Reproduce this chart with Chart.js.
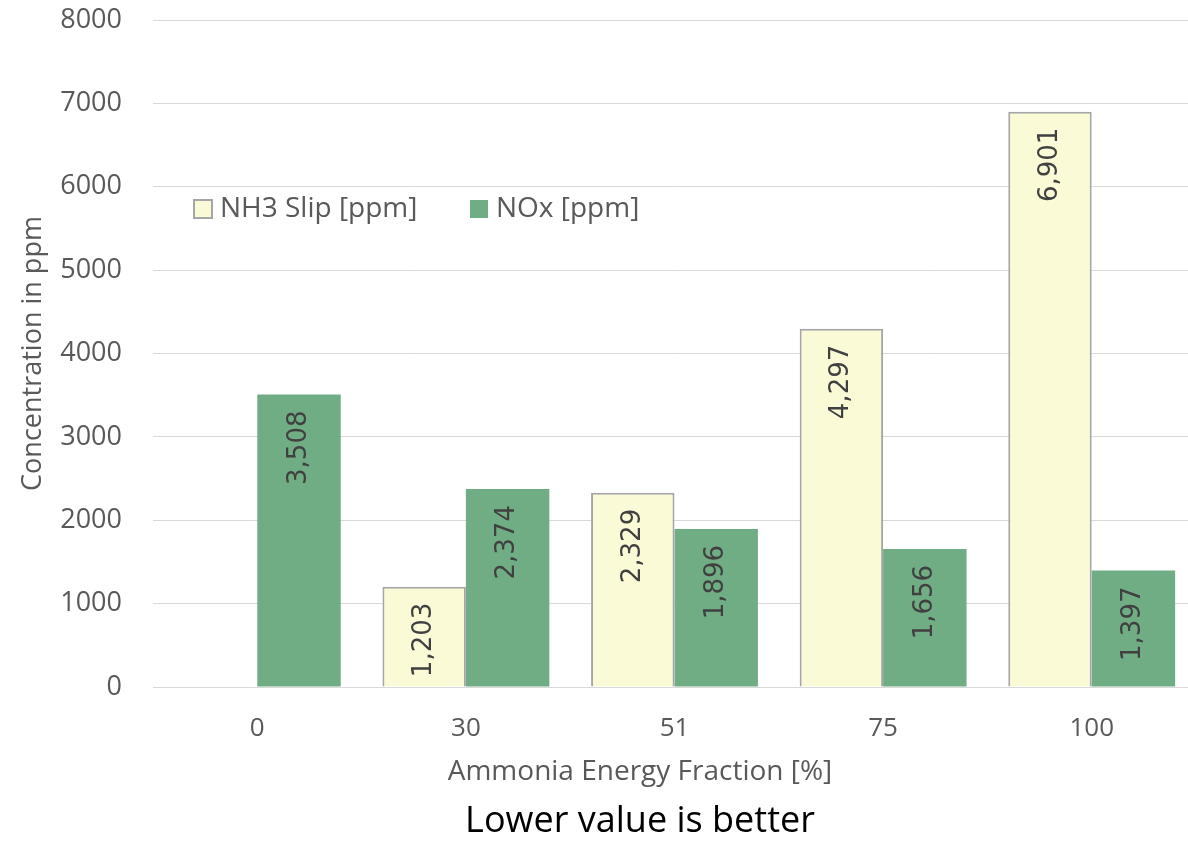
<!doctype html>
<html lang="en">
<head>
    <meta charset="utf-8">
    <title>Ammonia Energy Fraction</title>
    <script src="https://cdn.jsdelivr.net/npm/chart.js"></script>
    <style>
        body {
            margin: 0;
            background: white;
            overflow: hidden;
        }
    </style>
</head>
<body>
    <canvas id="myChart" width="1196" height="841"></canvas>

    <script>
        // data
        const fractions = ['0', '30', '51', '75', '100'];
        const nh3Slip = [null, 1203, 2329, 4297, 6901];
        const noxValues = [3508, 2374, 1896, 1656, 1397];
        const yTicks = [0, 1000, 2000, 3000, 4000, 5000, 6000, 7000, 8000];

        const xTitle = 'Ammonia Energy Fraction [%]';
        const bottomNote = 'Lower value is better';

        const greyText = '#595959';
        const mainFont = 'Open Sans';

        // value labels, rotated, inside the top of each bar
        const barLabels = {
            id: 'barLabels',
            afterDatasetsDraw(chart) {
                const ctx = chart.ctx;
                ctx.save();
                ctx.font = '26px "DejaVu Sans"';
                ctx.fillStyle = '#404040';
                chart.data.datasets.forEach((ds, i) => {
                    const meta = chart.getDatasetMeta(i);
                    meta.data.forEach((bar, j) => {
                        const v = ds.data[j];
                        if (v == null) return;
                        ctx.save();
                        ctx.translate(bar.x, bar.y + 16);
                        ctx.rotate(-Math.PI / 2);
                        ctx.textAlign = 'right';
                        ctx.textBaseline = 'middle';
                        ctx.fillText(v.toLocaleString('en-US'), 0, 0);
                        ctx.restore();
                    });
                });
                ctx.restore();
            }
        };

        // legend inside the plot area + the two bottom texts
        const extras = {
            id: 'extras',
            afterDraw(chart) {
                const ctx = chart.ctx;
                const items = [
                    { x: 194, ds: chart.data.datasets[0] },
                    { x: 470, ds: chart.data.datasets[1] }
                ];
                const y = 209;
                ctx.save();
                ctx.font = '28px "' + mainFont + '"';
                ctx.textBaseline = 'middle';
                ctx.textAlign = 'left';
                items.forEach(it => {
                    ctx.fillStyle = it.ds.backgroundColor;
                    ctx.fillRect(it.x, y - 9, 18, 18);
                    if (it.ds.borderWidth) {
                        ctx.strokeStyle = it.ds.borderColor;
                        ctx.lineWidth = 2;
                        ctx.strokeRect(it.x, y - 9, 18, 18);
                    }
                    ctx.fillStyle = greyText;
                    ctx.fillText(it.ds.label, it.x + 26, y);
                });

                ctx.textAlign = 'center';
                ctx.fillStyle = greyText;
                ctx.font = '28px "' + mainFont + '"';
                ctx.fillText(xTitle, 640, 772);
                ctx.fillStyle = '#000000';
                ctx.font = '36px "' + mainFont + '"';
                ctx.fillText(bottomNote, 640, 822);
                ctx.restore();
            }
        };

        const data = {
            labels: fractions,
            datasets: [{
                label: 'NH3 Slip [ppm]',
                data: nh3Slip,
                backgroundColor: '#FAFAD7',
                borderColor: '#A6A6A6',
                borderWidth: 2,
                categoryPercentage: 0.8,
                barPercentage: 1.0
            }, {
                label: 'NOx [ppm]',
                data: noxValues,
                backgroundColor: '#70AD85',
                borderWidth: 0,
                categoryPercentage: 0.8,
                barPercentage: 1.0
            }]
        };

        const config = {
            type: 'bar',
            data: data,
            plugins: [barLabels, extras],
            options: {
                responsive: false,
                animation: false,
                layout: {
                    padding: { top: 20, left: 0, right: 0, bottom: 0 }
                },
                plugins: {
                    legend: { display: false },
                    tooltip: { enabled: false },
                    title: { display: false }
                },
                scales: {
                    x: {
                        grid: { display: false, drawTicks: false },
                        border: { display: false },
                        ticks: {
                            color: greyText,
                            font: { family: mainFont, size: 26 },
                            padding: 26
                        },
                        afterFit(scale) {
                            scale.height = 841 - 687;
                        }
                    },
                    y: {
                        min: 0,
                        max: 8000,
                        afterBuildTicks(scale) {
                            scale.ticks = yTicks.map(v => ({ value: v }));
                        },
                        grid: { color: '#D9D9D9', lineWidth: 1, drawTicks: false },
                        border: { display: false },
                        ticks: {
                            color: greyText,
                            font: { family: mainFont, size: 27 },
                            padding: 31,
                            callback: v => String(v)
                        },
                        title: {
                            display: true,
                            text: 'Concentration in ppm',
                            color: greyText,
                            font: { family: mainFont, size: 27 },
                            padding: { top: 17, bottom: 0 }
                        },
                        afterFit(scale) {
                            scale.width = 153;
                            scale.paddingTop = 0;
                            scale.paddingBottom = 0;
                        }
                    }
                }
            }
        };

        const myChart = new Chart(document.getElementById('myChart'), config);
    </script>
</body>
</html>
